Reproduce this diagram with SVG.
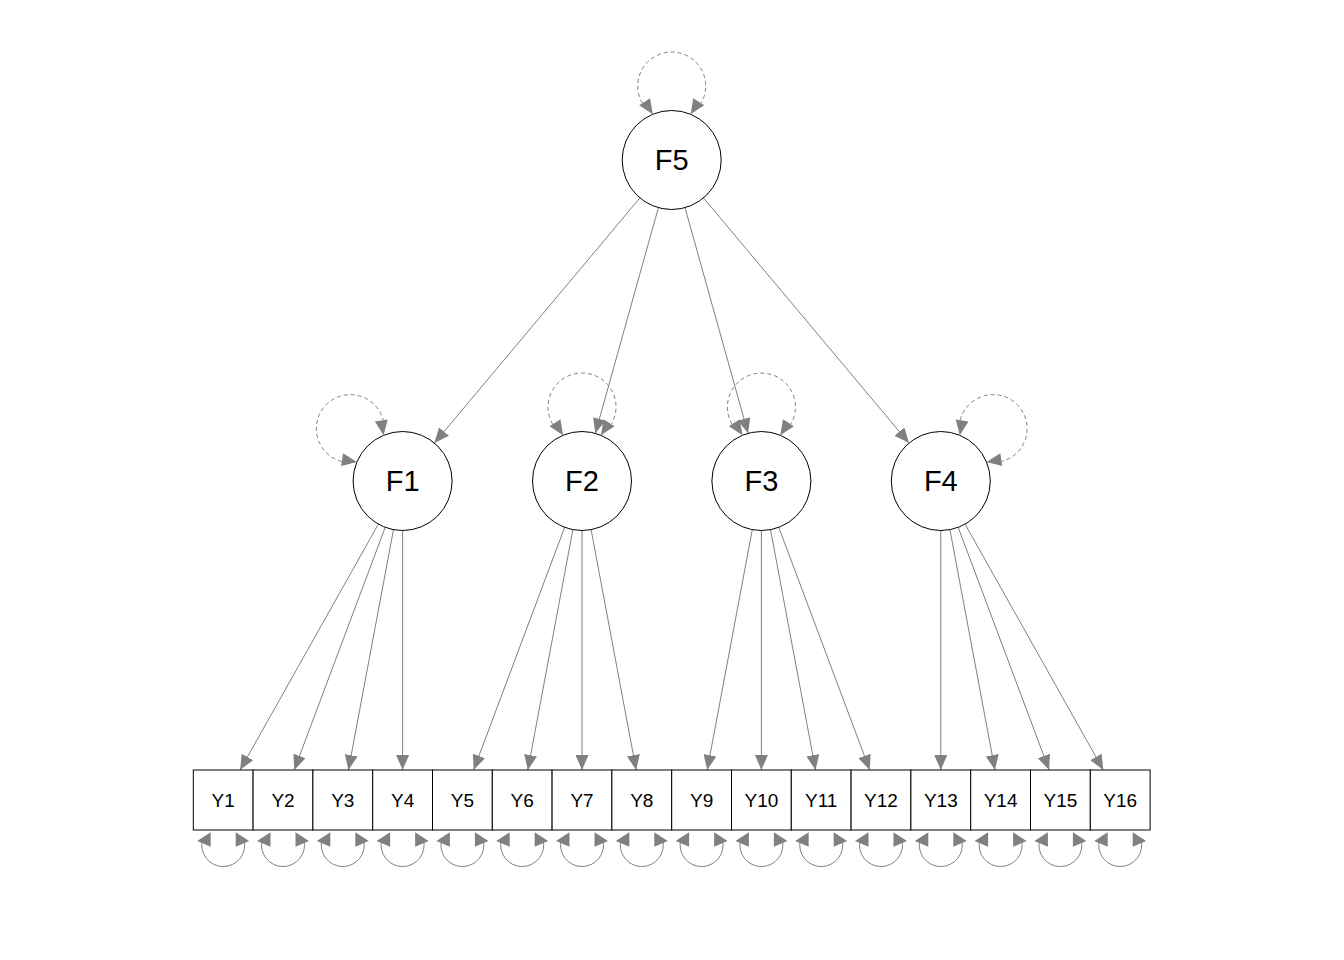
<svg xmlns="http://www.w3.org/2000/svg" width="1344" height="960" viewBox="0 0 1344 960">
<style>
.edge{fill:none;stroke:#808080;stroke-width:1;marker-end:url(#ah)}
.loopF{fill:none;stroke:#808080;stroke-width:1;stroke-dasharray:4,3}
.loopY{fill:none;stroke:#808080;stroke-width:1}
.head{fill:#808080;stroke:none}
.lat{fill:#fff;stroke:#000;stroke-width:1}
.man{fill:#fff;stroke:#000;stroke-width:1}
.tl{font-family:"Liberation Sans",Arial,sans-serif;font-size:29px;text-anchor:middle;fill:#000}
.ts{font-family:"Liberation Sans",Arial,sans-serif;font-size:19px;text-anchor:middle;fill:#000}
</style>
<defs>
<marker id="ah" markerUnits="userSpaceOnUse" viewBox="0 0 15 13" markerWidth="15" markerHeight="13" refX="15" refY="6.5" orient="auto">
<path d="M0,0 L15,6.5 L0,13 Z" fill="#808080"/>
</marker>
<g id="yl">
<path class="loopY" d="M-20.9,10 A21.5,21.5 0 1 0 20.9,10"/>
<path class="head" d="M-26,11 L-12.5,2.3 L-12.5,16.8 Z"/>
<path class="head" d="M26,11 L12.5,2.3 L12.5,16.8 Z"/>
</g>
</defs>
<rect width="1344" height="960" fill="#fff"/>
<g id="connectors">
<line class="edge" x1="639.90" y1="197.93" x2="434.40" y2="443.07"/>
<line class="edge" x1="658.38" y1="207.67" x2="595.32" y2="433.33"/>
<line class="edge" x1="685.02" y1="207.67" x2="748.08" y2="433.33"/>
<line class="edge" x1="703.50" y1="197.93" x2="909.00" y2="443.07"/>
<line class="edge" x1="378.34" y1="524.15" x2="240.07" y2="770"/>
<line class="edge" x1="385.22" y1="527.35" x2="294.25" y2="770"/>
<line class="edge" x1="393.48" y1="529.65" x2="348.42" y2="770"/>
<line class="edge" x1="402.6" y1="530.5" x2="402.6" y2="770"/>
<line class="edge" x1="564.62" y1="527.35" x2="473.65" y2="770"/>
<line class="edge" x1="572.88" y1="529.65" x2="527.82" y2="770"/>
<line class="edge" x1="582" y1="530.5" x2="582" y2="770"/>
<line class="edge" x1="591.12" y1="529.65" x2="636.18" y2="770"/>
<line class="edge" x1="752.28" y1="529.65" x2="707.22" y2="770"/>
<line class="edge" x1="761.4" y1="530.5" x2="761.4" y2="770"/>
<line class="edge" x1="770.52" y1="529.65" x2="815.58" y2="770"/>
<line class="edge" x1="778.78" y1="527.35" x2="869.75" y2="770"/>
<line class="edge" x1="940.8" y1="530.5" x2="940.8" y2="770"/>
<line class="edge" x1="949.92" y1="529.65" x2="994.98" y2="770"/>
<line class="edge" x1="958.18" y1="527.35" x2="1049.15" y2="770"/>
<line class="edge" x1="965.06" y1="524.15" x2="1103.33" y2="770"/>
<g id="loop-F5">
<path class="loopF" d="M642.3,103.1 A34,34 0 1 1 701.1,103.1"/>
<path class="head" d="M652.8,114.3 L639.2,105.2 L650.1,98.2 Z"/>
<path class="head" d="M690.6,114.3 L704.2,105.2 L693.3,98.2 Z"/>
</g>
<g id="loop-F1">
<path class="loopF" d="M341.6,461.5 A34,34 0 1 1 383.2,420.0"/>
<path class="head" d="M383.6,435.3 L374.9,421.5 L387.7,419.5 Z"/>
<path class="head" d="M356.9,462.0 L341.1,466.1 L343.1,453.3 Z"/>
</g>
<g id="loop-F2">
<path class="loopF" d="M552.6,424.1 A34,34 0 1 1 611.4,424.1"/>
<path class="head" d="M563.1,435.3 L549.5,426.2 L560.4,419.2 Z"/>
<path class="head" d="M600.9,435.3 L614.5,426.2 L603.6,419.2 Z"/>
</g>
<g id="loop-F3">
<path class="loopF" d="M732.0,424.1 A34,34 0 1 1 790.8,424.1"/>
<path class="head" d="M742.5,435.3 L728.9,426.2 L739.8,419.2 Z"/>
<path class="head" d="M780.3,435.3 L793.9,426.2 L783.0,419.2 Z"/>
</g>
<g id="loop-F4">
<path class="loopF" d="M960.2,420.0 A34,34 0 1 1 1001.8,461.5"/>
<path class="head" d="M959.8,435.3 L968.5,421.5 L955.7,419.5 Z"/>
<path class="head" d="M986.5,462.0 L1002.3,466.1 L1000.3,453.3 Z"/>
</g>
<use href="#yl" x="223.2" y="830"/>
<use href="#yl" x="283.0" y="830"/>
<use href="#yl" x="342.8" y="830"/>
<use href="#yl" x="402.6" y="830"/>
<use href="#yl" x="462.4" y="830"/>
<use href="#yl" x="522.2" y="830"/>
<use href="#yl" x="582.0" y="830"/>
<use href="#yl" x="641.8" y="830"/>
<use href="#yl" x="701.6" y="830"/>
<use href="#yl" x="761.4" y="830"/>
<use href="#yl" x="821.2" y="830"/>
<use href="#yl" x="881.0" y="830"/>
<use href="#yl" x="940.8" y="830"/>
<use href="#yl" x="1000.6" y="830"/>
<use href="#yl" x="1060.4" y="830"/>
<use href="#yl" x="1120.2" y="830"/>
</g>
<g id="F5"><circle class="lat" cx="671.7" cy="160" r="49.5"/><text class="tl" x="671.7" y="170.4">F5</text></g>
<g id="F1"><circle class="lat" cx="402.6" cy="481" r="49.5"/><text class="tl" x="402.6" y="491.4">F1</text></g>
<g id="F2"><circle class="lat" cx="582" cy="481" r="49.5"/><text class="tl" x="582" y="491.4">F2</text></g>
<g id="F3"><circle class="lat" cx="761.4" cy="481" r="49.5"/><text class="tl" x="761.4" y="491.4">F3</text></g>
<g id="F4"><circle class="lat" cx="940.8" cy="481" r="49.5"/><text class="tl" x="940.8" y="491.4">F4</text></g>
<g id="Y1"><rect class="man" x="193.3" y="770" width="59.8" height="60"/><text class="ts" x="223.2" y="806.8">Y1</text></g>
<g id="Y2"><rect class="man" x="253.1" y="770" width="59.8" height="60"/><text class="ts" x="283.0" y="806.8">Y2</text></g>
<g id="Y3"><rect class="man" x="312.9" y="770" width="59.8" height="60"/><text class="ts" x="342.8" y="806.8">Y3</text></g>
<g id="Y4"><rect class="man" x="372.7" y="770" width="59.8" height="60"/><text class="ts" x="402.6" y="806.8">Y4</text></g>
<g id="Y5"><rect class="man" x="432.5" y="770" width="59.8" height="60"/><text class="ts" x="462.4" y="806.8">Y5</text></g>
<g id="Y6"><rect class="man" x="492.3" y="770" width="59.8" height="60"/><text class="ts" x="522.2" y="806.8">Y6</text></g>
<g id="Y7"><rect class="man" x="552.1" y="770" width="59.8" height="60"/><text class="ts" x="582.0" y="806.8">Y7</text></g>
<g id="Y8"><rect class="man" x="611.9" y="770" width="59.8" height="60"/><text class="ts" x="641.8" y="806.8">Y8</text></g>
<g id="Y9"><rect class="man" x="671.7" y="770" width="59.8" height="60"/><text class="ts" x="701.6" y="806.8">Y9</text></g>
<g id="Y10"><rect class="man" x="731.5" y="770" width="59.8" height="60"/><text class="ts" x="761.4" y="806.8">Y10</text></g>
<g id="Y11"><rect class="man" x="791.3" y="770" width="59.8" height="60"/><text class="ts" x="821.2" y="806.8">Y11</text></g>
<g id="Y12"><rect class="man" x="851.1" y="770" width="59.8" height="60"/><text class="ts" x="881.0" y="806.8">Y12</text></g>
<g id="Y13"><rect class="man" x="910.9" y="770" width="59.8" height="60"/><text class="ts" x="940.8" y="806.8">Y13</text></g>
<g id="Y14"><rect class="man" x="970.7" y="770" width="59.8" height="60"/><text class="ts" x="1000.6" y="806.8">Y14</text></g>
<g id="Y15"><rect class="man" x="1030.5" y="770" width="59.8" height="60"/><text class="ts" x="1060.4" y="806.8">Y15</text></g>
<g id="Y16"><rect class="man" x="1090.3" y="770" width="59.8" height="60"/><text class="ts" x="1120.2" y="806.8">Y16</text></g>
</svg>
